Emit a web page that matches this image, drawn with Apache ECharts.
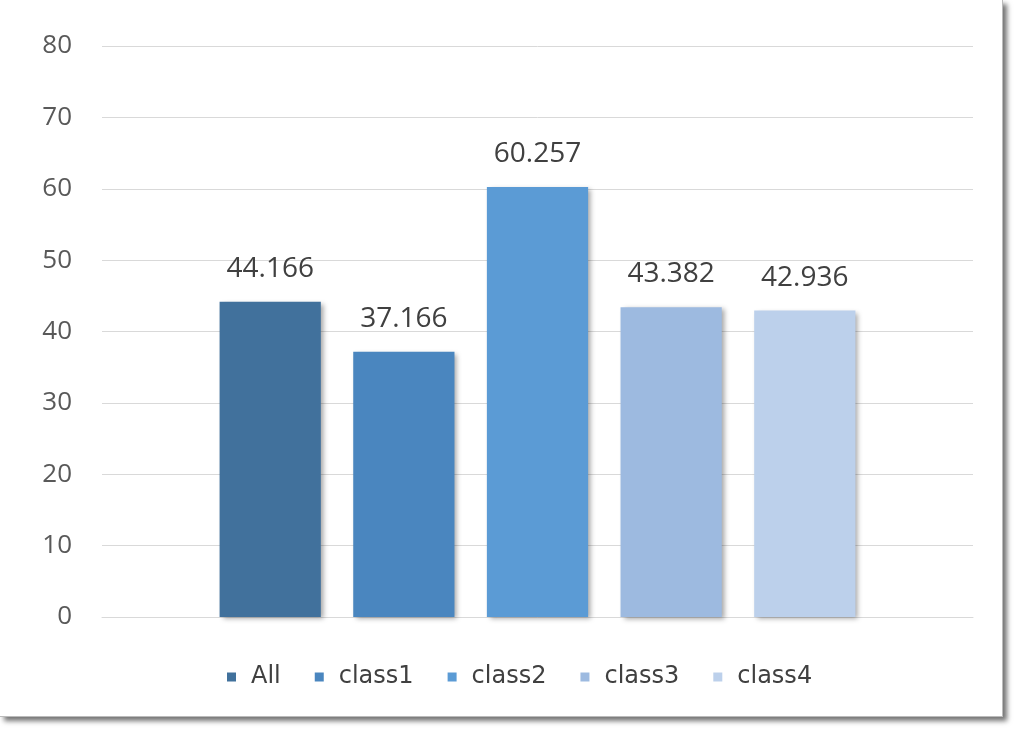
<!DOCTYPE html>
<html><head><meta charset="utf-8">
<script src="https://cdn.jsdelivr.net/npm/echarts@6/dist/echarts.min.js"></script>
<style>
html,body{margin:0;padding:0;background:#fff;}
#frame{position:absolute;left:0;top:0;width:1002px;height:716px;background:#fff;box-shadow:4px 4px 5px rgba(0,0,0,0.55);border-right:1px solid #bbb;border-bottom:1px solid #bbb;}
#chart{width:1002px;height:716px;}
</style></head>
<body>
<div id="frame"><div id="chart"></div></div>
<script>
var categories = [''];
var seriesNames = ['All', 'class1', 'class2', 'class3', 'class4'];
var seriesValues = [44.166, 37.166, 60.257, 43.382, 42.936];
var colors = ['#41719c', '#4a86bf', '#5b9bd5', '#9dbae0', '#bcd0eb'];
var yTicks = [0, 10, 20, 30, 40, 50, 60, 70, 80];

var chart = echarts.init(document.getElementById('chart'));
var series = seriesNames.map(function (n, i) {
  return {
    name: n, type: 'bar', data: [seriesValues[i]],
    barGap: '32%', barCategoryGap: '27%',
    itemStyle: { color: colors[i], shadowColor: 'rgba(0,0,0,0.35)', shadowBlur: 5, shadowOffsetX: 3, shadowOffsetY: 2 },
    label: { show: true, position: 'top', distance: 19, color: '#404040', fontSize: 28, fontFamily: 'Open Sans',
      formatter: function (p) { return p.value.toFixed(3); } }
  };
});
chart.setOption({
  animation: false,
  color: colors,
  grid: { left: 102, right: 29, top: 46, bottom: 99, containLabel: false },
  legend: {
    top: 660, left: 222, itemWidth: 9, itemHeight: 9, itemGap: 34, icon: 'rect',
    textStyle: { fontSize: 24, color: '#404040', fontFamily: 'DejaVu Sans', padding: [0, 0, 0, 10] },
    data: seriesNames
  },
  xAxis: { type: 'category', data: categories, axisLine: { show: true, lineStyle: { color: '#d9d9d9' } }, axisTick: { show: false }, axisLabel: { show: false } },
  yAxis: {
    type: 'value', min: 0, max: 80, interval: 10,
    axisLine: { show: false }, axisTick: { show: false },
    axisLabel: { fontSize: 26, color: '#595959', fontFamily: 'Open Sans', margin: 30,
      formatter: function (v) { return yTicks.indexOf(v) >= 0 ? String(v) : ''; } },
    splitLine: { lineStyle: { color: '#d9d9d9', width: 1 } }
  },
  series: series
});
</script>
</body></html>
